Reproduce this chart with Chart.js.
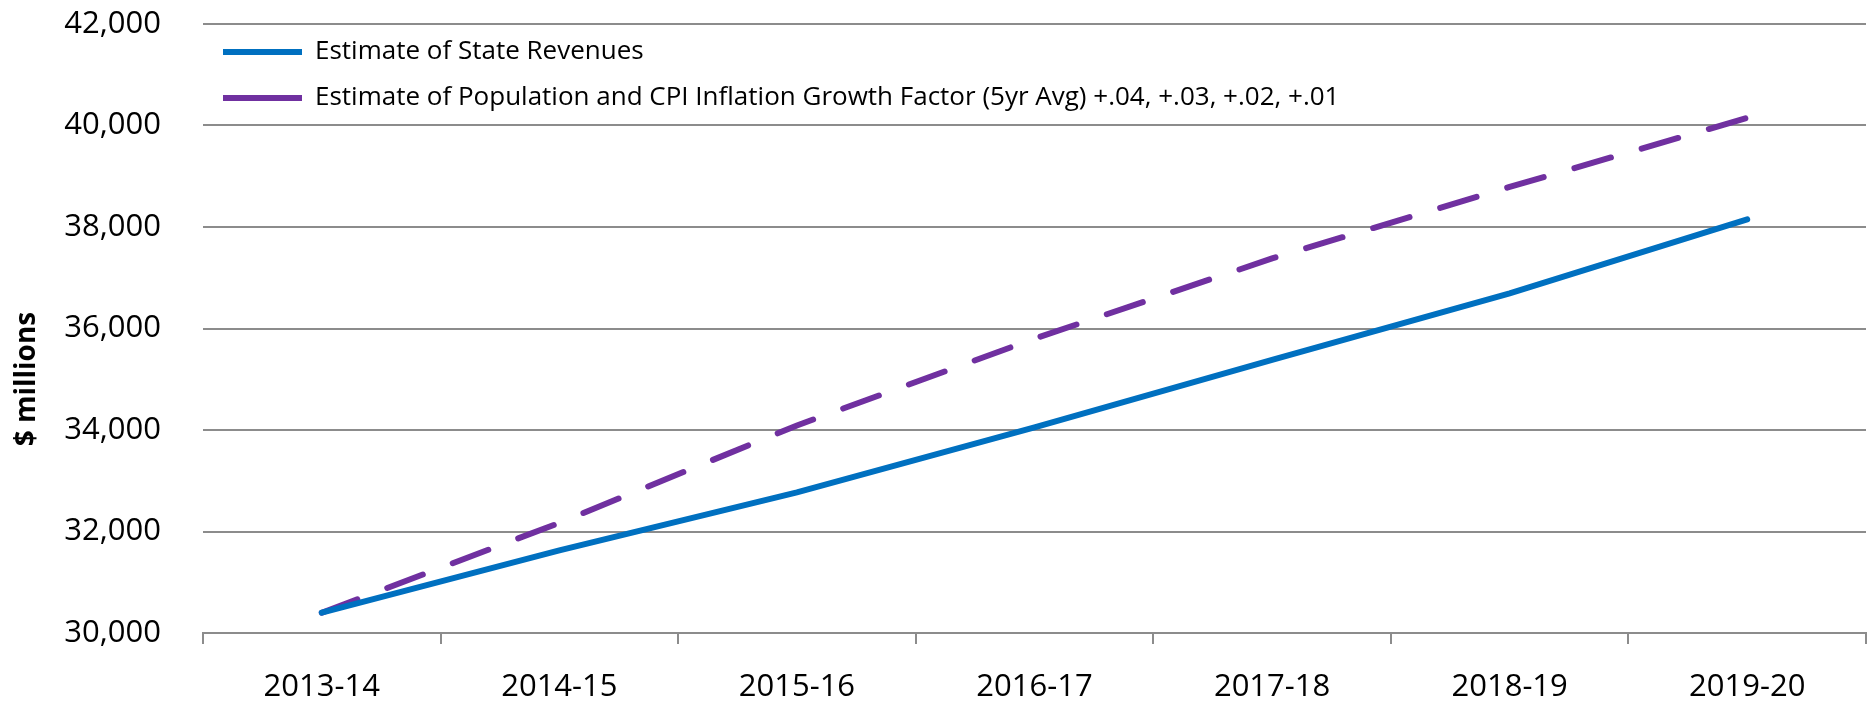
<!DOCTYPE html>
<html>
<head>
<meta charset="utf-8">
<script src="https://cdn.jsdelivr.net/npm/chart.js@4.4.0/dist/chart.umd.min.js"></script>
<style>
    html, body { margin: 0; padding: 0; background: #fff; }
    #wrap { width: 1872px; height: 703px; }
</style>
</head>
<body>
<div id="wrap"><canvas id="revenueChart"></canvas></div>
<script>
    // fiscal years on the x axis
    var years = ['2013-14', '2014-15', '2015-16', '2016-17', '2017-18', '2018-19', '2019-20'];
    // $ millions
    var stateRevenues = [30400, 31630, 32770, 34050, 35380, 36690, 38150];
    var popCpiEstimate = [30400, 32170, 34090, 35800, 37380, 38790, 40150];
    var seriesNames = ['Estimate of State Revenues',
        'Estimate of Population and CPI Inflation Growth Factor (5yr Avg) +.04, +.03, +.02, +.01'];
    var yMin = 30000, yMax = 42000, yStep = 2000;
    var yTitle = '$ millions';

    var fontName = '"Open Sans", sans-serif';
    var gridGray = '#8c8c8c';

    // y axis title sits a bit below centre in the original
    var yTitlePlugin = {
        id: 'yTitle',
        afterDraw: function (chart) {
            var ctx = chart.ctx, area = chart.chartArea;
            ctx.save();
            ctx.translate(27, area.top + (area.bottom - area.top) * 0.583);
            ctx.rotate(-Math.PI / 2);
            ctx.font = 'bold 28px ' + fontName;
            ctx.fillStyle = '#000';
            ctx.textAlign = 'center';
            ctx.textBaseline = 'middle';
            ctx.fillText(yTitle, 0, 0);
            ctx.restore();
        }
    };

    var ctx = document.getElementById('revenueChart').getContext('2d');
    var myChart = new Chart(ctx, {
        type: 'line',
        data: {
            labels: years,
            datasets: [{
                label: seriesNames[0],
                data: stateRevenues,
                borderColor: '#0070C0',
                backgroundColor: '#0070C0',
                borderWidth: 6,
                borderCapStyle: 'round',
                pointRadius: 0,
                tension: 0
            }, {
                label: seriesNames[1],
                data: popCpiEstimate,
                borderColor: '#7030A0',
                backgroundColor: '#7030A0',
                borderWidth: 6,
                borderDash: [38, 32],
                borderCapStyle: 'round',
                pointRadius: 0,
                tension: 0
            }]
        },
        options: {
            responsive: true,
            maintainAspectRatio: false,
            animation: false,
            layout: { padding: { top: 24, right: 6, left: 0, bottom: 0 } },
            plugins: {
                legend: {
                    position: 'chartArea',
                    align: 'start',
                    // empty title only pushes the entries down a little
                    title: { display: true, text: '', padding: 0, font: { size: 10, lineHeight: 1.9 } },
                    labels: {
                        usePointStyle: true,
                        pointStyle: 'line',
                        pointStyleWidth: 79,
                        padding: 20,
                        color: '#000',
                        font: { family: fontName, size: 26 }
                    }
                },
                tooltip: { enabled: false }
            },
            scales: {
                x: {
                    offset: true,
                    grid: { display: true, drawOnChartArea: false, offset: true, color: gridGray, lineWidth: 2, tickLength: 11 },
                    border: { color: gridGray, width: 2 },
                    ticks: { color: '#000', padding: 25, maxRotation: 0, font: { family: fontName, size: 31 } },
                    afterFit: function (scale) { scale.height = 70; }
                },
                y: {
                    min: yMin,
                    max: yMax,
                    grid: { color: gridGray, lineWidth: 2, drawTicks: false },
                    border: { display: false },
                    ticks: { stepSize: yStep, color: '#000', padding: 42, font: { family: fontName, size: 31 } },
                    afterFit: function (scale) {
                        scale.width = 203;
                        scale.paddingTop = 0;
                        scale.paddingBottom = 0;
                    }
                }
            }
        },
        plugins: [yTitlePlugin]
    });
</script>
</body>
</html>
